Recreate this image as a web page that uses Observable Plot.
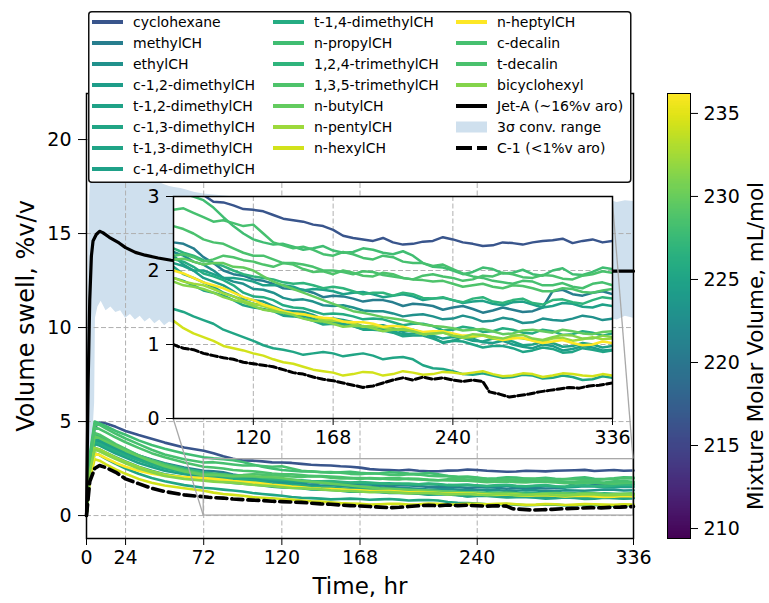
<!DOCTYPE html>
<html>
<head>
<meta charset="utf-8">
<script src="https://cdn.jsdelivr.net/npm/d3@7"></script>
<script src="https://cdn.jsdelivr.net/npm/@observablehq/plot@0.6"></script>
<style>
  body { margin: 0; background: #fff; }
  #fig { position: relative; width: 769px; height: 603px; overflow: hidden; font-family: "DejaVu Sans", sans-serif; }
</style>
</head>
<body>
<div id="fig"></div>
<script>
// ---- data -------------------------------------------------------------
const NAMES = [
  "cyclohexane", "methylCH", "ethylCH", "c-1,2-dimethylCH", "t-1,2-dimethylCH",
  "c-1,3-dimethylCH", "t-1,3-dimethylCH", "c-1,4-dimethylCH", "t-1,4-dimethylCH",
  "n-propylCH", "1,2,4-trimethylCH", "1,3,5-trimethylCH", "n-butylCH", "n-pentylCH",
  "n-hexylCH", "n-heptylCH", "c-decalin", "t-decalin", "bicyclohexyl"
];
// mixture molar volume, mL/mol
const MOLAR_VOL = [216.5, 220.8, 222.9, 224.2, 224.8, 225.2, 225.0, 224.6, 225.9,
  228.0, 226.8, 228.7, 229.8, 232.3, 234.4, 236.2, 228.3, 228.5, 231.2];

// sampling times, hr
const T = [0, 2, 5, 8, 12, 18, 24, 32, 40, 48, 60,
  72, 78, 84, 90, 96, 102, 108, 114, 120, 126, 132, 138, 144, 150, 156, 162, 168, 174, 180, 186, 192, 198,
  204, 210, 216, 222, 228, 234, 240, 246, 252, 258, 264, 270, 276, 282, 288, 294, 300, 306, 312, 318, 324, 330, 336];

// volume swell, %v/v, one row per mixture (same order as NAMES)
const SWELL = [
  [0, 2.6, 4.7, 4.95, 4.9, 4.72, 4.5, 4.28, 4.08, 3.88, 3.62,
   3.45, 3.32, 3.15, 3.02, 2.93, 2.92, 2.88, 2.83, 2.82, 2.8, 2.75, 2.7, 2.68, 2.66, 2.62, 2.6, 2.55, 2.47, 2.44, 2.42, 2.4, 2.44, 2.38, 2.35, 2.36, 2.39, 2.4, 2.45, 2.42, 2.38, 2.36, 2.33, 2.34, 2.38, 2.37, 2.35, 2.38, 2.4, 2.41, 2.43, 2.37, 2.4, 2.42, 2.38, 2.4],
  [0, 2.6, 4.2, 4.12, 3.95, 3.7, 3.48, 3.2, 2.98, 2.78, 2.55,
   2.38, 2.36, 2.3, 2.18, 2.1, 2.0, 1.95, 1.93, 1.88, 1.86, 1.82, 1.76, 1.75, 1.74, 1.7, 1.64, 1.66, 1.65, 1.62, 1.58, 1.6, 1.6, 1.57, 1.52, 1.55, 1.54, 1.52, 1.47, 1.5, 1.52, 1.48, 1.43, 1.46, 1.5, 1.47, 1.44, 1.45, 1.5, 1.72, 1.74, 1.68, 1.66, 1.7, 1.72, 1.68],
  [0, 2.5, 4.0, 3.95, 3.78, 3.55, 3.32, 3.05, 2.82, 2.62, 2.42,
   2.25, 2.2, 2.12, 2.08, 2.0, 1.9, 1.85, 1.82, 1.75, 1.74, 1.7, 1.63, 1.6, 1.61, 1.58, 1.53, 1.52, 1.53, 1.5, 1.46, 1.45, 1.45, 1.42, 1.38, 1.4, 1.41, 1.38, 1.34, 1.35, 1.39, 1.36, 1.31, 1.32, 1.36, 1.34, 1.29, 1.3, 1.35, 1.33, 1.32, 1.35, 1.39, 1.37, 1.33, 1.35],
  [0, 2.4, 4.0, 3.92, 3.72, 3.45, 3.22, 2.95, 2.72, 2.52, 2.35,
   2.2, 2.08, 2.0, 1.9, 1.85, 1.8, 1.72, 1.63, 1.6, 1.58, 1.52, 1.46, 1.45, 1.44, 1.4, 1.34, 1.35, 1.33, 1.3, 1.24, 1.25, 1.26, 1.22, 1.17, 1.2, 1.16, 1.1, 1.02, 1.05, 1.1, 1.08, 1.03, 1.02, 1.05, 1.0, 0.97, 0.95, 1.0, 0.98, 0.92, 0.94, 0.98, 0.96, 0.92, 0.93],
  [0, 2.4, 3.8, 3.72, 3.55, 3.3, 3.08, 2.8, 2.58, 2.38, 2.2,
   2.05, 1.95, 1.9, 1.84, 1.78, 1.7, 1.65, 1.6, 1.55, 1.53, 1.48, 1.42, 1.4, 1.39, 1.35, 1.3, 1.3, 1.28, 1.25, 1.21, 1.22, 1.21, 1.18, 1.14, 1.15, 1.16, 1.12, 1.08, 1.1, 1.09, 1.05, 1.04, 1.08, 1.07, 1.04, 0.99, 1.0, 1.04, 1.02, 0.97, 0.98, 1.02, 1.0, 0.96, 0.98],
  [0, 2.0, 3.3, 3.22, 3.02, 2.75, 2.5, 2.22, 2.0, 1.82, 1.62,
   1.48, 1.44, 1.38, 1.33, 1.28, 1.2, 1.15, 1.1, 1.05, 0.99, 0.95, 0.93, 0.9, 0.86, 0.88, 0.9, 0.88, 0.84, 0.86, 0.88, 0.85, 0.8, 0.82, 0.83, 0.8, 0.72, 0.68, 0.67, 0.64, 0.6, 0.59, 0.61, 0.58, 0.55, 0.56, 0.59, 0.58, 0.54, 0.55, 0.58, 0.56, 0.52, 0.53, 0.57, 0.55],
  [0, 2.3, 3.6, 3.52, 3.35, 3.1, 2.88, 2.6, 2.38, 2.2, 2.02,
   1.9, 1.86, 1.8, 1.73, 1.7, 1.66, 1.6, 1.53, 1.5, 1.48, 1.45, 1.39, 1.38, 1.36, 1.32, 1.27, 1.28, 1.27, 1.25, 1.2, 1.2, 1.19, 1.16, 1.11, 1.12, 1.12, 1.08, 1.03, 1.05, 1.04, 1.0, 0.96, 0.98, 0.98, 0.95, 0.9, 0.92, 0.96, 0.94, 0.89, 0.9, 0.95, 0.93, 0.9, 0.92],
  [0, 2.6, 4.1, 4.02, 3.85, 3.6, 3.35, 3.05, 2.78, 2.55, 2.3,
   2.1, 2.06, 2.0, 2.0, 1.95, 1.9, 1.9, 1.88, 1.85, 1.8, 1.8, 1.8, 1.78, 1.73, 1.75, 1.74, 1.72, 1.68, 1.7, 1.71, 1.68, 1.64, 1.66, 1.68, 1.65, 1.6, 1.62, 1.63, 1.6, 1.56, 1.58, 1.59, 1.55, 1.53, 1.57, 1.58, 1.54, 1.5, 1.52, 1.56, 1.55, 1.51, 1.5, 1.54, 1.52],
  [0, 2.5, 3.9, 3.82, 3.65, 3.42, 3.2, 2.95, 2.72, 2.52, 2.32,
   2.15, 2.12, 2.05, 1.96, 1.92, 1.87, 1.8, 1.7, 1.65, 1.64, 1.6, 1.53, 1.5, 1.49, 1.45, 1.41, 1.42, 1.41, 1.38, 1.34, 1.35, 1.34, 1.3, 1.26, 1.28, 1.28, 1.25, 1.19, 1.2, 1.24, 1.22, 1.17, 1.18, 1.22, 1.2, 1.16, 1.15, 1.2, 1.18, 1.13, 1.14, 1.18, 1.16, 1.12, 1.15],
  [0, 3.2, 5.0, 4.9, 4.75, 4.5, 4.3, 4.0, 3.75, 3.55, 3.3,
   3.1, 3.04, 3.0, 2.95, 2.85, 2.72, 2.6, 2.5, 2.42, 2.38, 2.35, 2.36, 2.32, 2.28, 2.3, 2.33, 2.27, 2.24, 2.25, 2.3, 2.28, 2.24, 2.22, 2.26, 2.2, 2.1, 2.05, 2.04, 2.0, 1.95, 1.98, 2.04, 2.02, 1.96, 1.97, 2.01, 1.95, 1.93, 2.0, 2.03, 1.95, 1.94, 1.98, 2.04, 2.02],
  [0, 2.7, 4.3, 4.2, 4.0, 3.75, 3.5, 3.2, 2.95, 2.75, 2.5,
   2.3, 2.24, 2.2, 2.14, 2.1, 2.06, 2.0, 1.95, 1.92, 1.9, 1.88, 1.84, 1.82, 1.83, 1.8, 1.76, 1.78, 1.76, 1.72, 1.68, 1.7, 1.7, 1.66, 1.7, 1.68, 1.63, 1.62, 1.64, 1.6, 1.57, 1.62, 1.64, 1.58, 1.56, 1.6, 1.62, 1.56, 1.54, 1.6, 1.61, 1.57, 1.55, 1.6, 1.64, 1.62],
  [0, 2.8, 4.4, 4.3, 4.1, 3.8, 3.55, 3.2, 2.95, 2.7, 2.42,
   2.2, 2.22, 2.18, 2.12, 2.15, 2.2, 2.18, 2.14, 2.12, 2.08, 2.05, 2.1, 2.08, 2.02, 1.98, 1.99, 1.95, 2.0, 1.97, 1.93, 1.92, 1.97, 1.95, 1.9, 1.88, 1.87, 1.85, 1.86, 1.82, 1.78, 1.8, 1.82, 1.78, 1.76, 1.8, 1.79, 1.76, 1.72, 1.72, 1.76, 1.75, 1.71, 1.7, 1.73, 1.75],
  [0, 2.7, 4.2, 4.12, 3.95, 3.7, 3.45, 3.15, 2.88, 2.62, 2.35,
   2.15, 2.16, 2.12, 2.08, 2.1, 2.1, 2.05, 2.04, 2.0, 1.92, 1.85, 1.8, 1.75, 1.7, 1.65, 1.6, 1.55, 1.5, 1.45, 1.43, 1.4, 1.37, 1.35, 1.33, 1.3, 1.27, 1.25, 1.24, 1.22, 1.19, 1.2, 1.21, 1.18, 1.14, 1.15, 1.19, 1.2, 1.18, 1.16, 1.2, 1.18, 1.15, 1.14, 1.17, 1.18],
  [0, 2.3, 3.6, 3.52, 3.35, 3.08, 2.85, 2.58, 2.35, 2.18, 2.02,
   1.9, 1.85, 1.82, 1.8, 1.75, 1.69, 1.65, 1.59, 1.55, 1.52, 1.48, 1.44, 1.42, 1.41, 1.38, 1.33, 1.32, 1.31, 1.28, 1.24, 1.25, 1.23, 1.2, 1.2, 1.18, 1.14, 1.15, 1.16, 1.12, 1.09, 1.1, 1.12, 1.08, 1.06, 1.1, 1.08, 1.06, 1.04, 1.08, 1.09, 1.05, 1.07, 1.1, 1.07, 1.08],
  [0, 1.9, 3.0, 2.92, 2.72, 2.45, 2.22, 1.95, 1.75, 1.6, 1.45,
   1.32, 1.22, 1.15, 1.1, 1.05, 0.98, 0.95, 0.92, 0.88, 0.85, 0.8, 0.76, 0.74, 0.7, 0.66, 0.64, 0.62, 0.58, 0.6, 0.63, 0.62, 0.58, 0.6, 0.64, 0.62, 0.59, 0.6, 0.63, 0.62, 0.6, 0.62, 0.64, 0.6, 0.57, 0.58, 0.61, 0.6, 0.56, 0.58, 0.61, 0.6, 0.58, 0.57, 0.6, 0.58],
  [0, 2.1, 3.3, 3.22, 3.05, 2.8, 2.6, 2.38, 2.22, 2.12, 2.05,
   2.0, 1.96, 1.9, 1.84, 1.8, 1.76, 1.7, 1.64, 1.6, 1.54, 1.5, 1.45, 1.42, 1.41, 1.38, 1.36, 1.35, 1.31, 1.3, 1.3, 1.28, 1.24, 1.25, 1.24, 1.2, 1.17, 1.18, 1.18, 1.15, 1.12, 1.12, 1.13, 1.1, 1.06, 1.08, 1.09, 1.05, 1.02, 1.04, 1.06, 1.02, 0.99, 1.0, 1.04, 1.02],
  [0, 3.0, 4.9, 4.82, 4.62, 4.35, 4.1, 3.8, 3.5, 3.25, 3.0,
   2.82, 2.84, 2.78, 2.72, 2.66, 2.68, 2.64, 2.6, 2.62, 2.5, 2.38, 2.34, 2.3, 2.32, 2.28, 2.22, 2.2, 2.25, 2.22, 2.17, 2.15, 2.2, 2.18, 2.12, 2.1, 2.1, 2.06, 2.08, 2.02, 1.96, 1.92, 1.9, 1.86, 1.84, 1.82, 1.86, 1.85, 1.8, 1.8, 1.83, 1.78, 1.76, 1.82, 1.84, 1.8],
  [0, 2.9, 4.7, 4.6, 4.42, 4.15, 3.9, 3.6, 3.32, 3.1, 2.82,
   2.6, 2.56, 2.5, 2.42, 2.38, 2.36, 2.3, 2.24, 2.2, 2.2, 2.15, 2.1, 2.1, 2.08, 2.05, 2.0, 2.0, 1.98, 1.95, 1.99, 1.98, 1.94, 1.92, 1.9, 1.88, 1.93, 1.95, 1.92, 1.9, 1.86, 1.88, 1.93, 1.92, 1.97, 1.95, 1.91, 1.9, 1.94, 1.93, 1.89, 1.88, 1.93, 1.95, 1.99, 1.97],
  [0, 2.3, 3.5, 3.42, 3.25, 3.0, 2.78, 2.5, 2.3, 2.1, 1.95,
   1.85, 1.8, 1.78, 1.75, 1.7, 1.64, 1.6, 1.57, 1.52, 1.47, 1.45, 1.43, 1.4, 1.35, 1.32, 1.31, 1.28, 1.24, 1.25, 1.25, 1.22, 1.18, 1.2, 1.21, 1.18, 1.14, 1.15, 1.16, 1.12, 1.1, 1.14, 1.13, 1.1, 1.08, 1.12, 1.13, 1.08, 1.06, 1.1, 1.13, 1.12, 1.08, 1.08, 1.12, 1.1]
];

// Jet-A reference fuel (~16 %v aromatics)
const JETA_T = [0, 1, 2, 3, 4, 6, 8, 10, 14, 20, 24, 30, 36, 44, 52, 60, 72, 96, 120, 168, 240, 300, 336];
const JETA_V = [0, 7, 11.5, 13.8, 14.6, 14.95, 15.12, 15.05, 14.8, 14.5, 14.25, 14.0, 13.85, 13.7, 13.58, 13.5, 13.4, 13.3, 13.2, 13.1, 13.05, 13.0, 13.0];

// 3-sigma conventional fuel range
const BAND_T  = [0, 1, 2, 3, 4, 5, 5.5, 7, 9, 12, 15, 18, 21, 24, 27, 30, 33, 36, 39, 42, 45, 48, 51, 54, 58, 62, 66, 72, 96, 144, 192, 240, 288, 312, 320, 326, 331, 336];
const BAND_LO = [0, 0.5, 1.5, 3, 4.5, 6, 10.5, 11.1, 11.4, 10.9, 11.1, 10.8, 10.9, 10.5, 10.7, 10.4, 10.6, 10.3, 10.5, 10.2, 10.4, 10.1, 10.3, 10.2, 10.0, 10.1, 10.0, 10.0, 10.2, 10.3, 10.4, 10.5, 10.4, 10.6, 10.5, 10.4, 10.6, 10.5];
const BAND_HI = [0, 12, 17, 18.5, 19, 19.2, 19.2, 19.1, 19.0, 18.8, 18.7, 18.6, 18.5, 18.4, 18.3, 18.2, 18.1, 18.0, 17.9, 17.8, 17.7, 17.6, 17.5, 17.45, 17.4, 17.3, 17.2, 17.1, 16.9, 16.8, 16.7, 16.7, 16.75, 16.6, 16.8, 16.65, 16.75, 16.7];

// C-1 reference fuel (<1 %v aromatics)
const C1_T = [0, 2, 5, 8, 12, 18, 24, 32, 40, 48, 60, 72, 75, 78, 84, 90, 96, 102, 108, 114, 120, 126, 132, 138, 144, 150, 156, 162, 168, 174, 180, 186, 192, 198, 204, 210, 216, 222, 228, 234, 240, 246, 252, 258, 262, 268, 274, 280, 286, 292, 298, 304, 310, 316, 322, 328, 336];
const C1_V = [0, 1.8, 2.5, 2.66, 2.55, 2.3, 1.95, 1.7, 1.45, 1.28, 1.1, 1.0, 0.97, 0.95, 0.93, 0.88, 0.85, 0.82, 0.8, 0.76, 0.74, 0.72, 0.7, 0.66, 0.62, 0.6, 0.56, 0.53, 0.51, 0.48, 0.45, 0.42, 0.44, 0.48, 0.52, 0.55, 0.52, 0.56, 0.53, 0.55, 0.52, 0.5, 0.52, 0.5, 0.36, 0.33, 0.29, 0.31, 0.33, 0.36, 0.38, 0.4, 0.42, 0.41, 0.44, 0.45, 0.48];

const X_TICKS = [0, 24, 72, 120, 168, 240, 336];
const Y_TICKS = [0, 5, 10, 15, 20];
const INSET_X_TICKS = [120, 168, 240, 336];
const INSET_Y_TICKS = [0, 1, 2, 3];
const CBAR_TICKS = [210, 215, 220, 225, 230, 235];
const CBAR_DOMAIN = [209.4, 236.2];
const ZOOM = {x1: 72, x2: 336, y1: 0, y2: 3};

// ---- tidy tables -------------------------------------------------------
const rows = NAMES.flatMap((name, i) => T.map((t, j) => ({name, mv: MOLAR_VOL[i], t, v: SWELL[i][j]})));
const jetA = JETA_T.map((t, i) => ({t, v: JETA_V[i]}));
const band = BAND_T.map((t, i) => ({t, lo: BAND_LO[i], hi: BAND_HI[i]}));
const c1 = C1_T.map((t, i) => ({t, v: C1_V[i]}));

// ---- layout --------------------------------------------------------------
const W = 769, H = 603;
const AX = {left: 86, right: 633, top: 93, bottom: 538};
const INS = {left: 173, top: 196, width: 439, height: 222};
const FONT = "DejaVu Sans";
const TICK_FS = 19;
const GRID = {stroke: "#b0b0b0", strokeOpacity: 1, strokeWidth: 1, strokeDasharray: "5,2.5"};
const COLOR = {type: "linear", scheme: "viridis", domain: CBAR_DOMAIN};
const BAND_FILL = "#cfe0ee";

const fig = document.getElementById("fig");
function place(el, left, top) {
  el.style.position = "absolute";
  el.style.left = left + "px";
  el.style.top = top + "px";
  fig.appendChild(el);
}
const baseStyle = {fontFamily: FONT, fontSize: TICK_FS + "px", color: "black", background: "transparent", overflow: "visible"};

// ---- main axes -----------------------------------------------------------
const main = Plot.plot({
  width: W, height: H,
  marginLeft: AX.left, marginRight: W - AX.right, marginTop: AX.top, marginBottom: H - AX.bottom,
  x: {domain: [0, 336]},
  y: {domain: [-1.22, 22.45]},
  color: COLOR,
  style: baseStyle,
  marks: [
    Plot.areaY(band, {x: "t", y1: "lo", y2: "hi", fill: BAND_FILL}),
    Plot.gridX({ticks: X_TICKS, ...GRID}),
    Plot.gridY({ticks: Y_TICKS, ...GRID}),
    Plot.line(rows, {x: "t", y: "v", z: "name", stroke: "mv", strokeWidth: 2.6}),
    Plot.line(jetA, {x: "t", y: "v", stroke: "black", strokeWidth: 3.2}),
    Plot.line(c1, {x: "t", y: "v", stroke: "black", strokeWidth: 3.6, strokeDasharray: "11,5"}),
    Plot.rect([ZOOM], {x1: "x1", x2: "x2", y1: "y1", y2: "y2", fill: "none", stroke: "#a8a8a8", strokeWidth: 1.3}),
    Plot.frame({stroke: "black", strokeWidth: 1.5}),
    Plot.axisX({ticks: X_TICKS, tickSize: 7, tickPadding: 5, label: null, fontSize: TICK_FS}),
    Plot.axisY({ticks: Y_TICKS, tickSize: 8, tickPadding: 7, label: null, fontSize: TICK_FS}),
    Plot.text(["Time, hr"], {text: d => d, frameAnchor: "bottom", textAnchor: "middle", lineAnchor: "middle", dy: 48, fontSize: 23}),
    Plot.text(["Volume swell, %v/v"], {text: d => d, frameAnchor: "left", textAnchor: "middle", lineAnchor: "middle", rotate: -90, dx: -60, fontSize: 24})
  ]
});
place(main, 0, 0);

// connector lines from the zoomed region to the inset frame
{
  const sx = main.scale("x"), sy = main.scale("y");
  const X = d3.scaleLinear(sx.domain, sx.range);
  const Y = d3.scaleLinear(sy.domain, sy.range);
  const g = d3.select(main).append("g")
    .attr("stroke", "#a8a8a8").attr("stroke-width", 1.3).attr("fill", "none");
  g.append("line")
    .attr("x1", INS.left).attr("y1", INS.top + INS.height)
    .attr("x2", X(ZOOM.x1)).attr("y2", Y(ZOOM.y1));
  g.append("line")
    .attr("x1", INS.left + INS.width).attr("y1", INS.top)
    .attr("x2", X(ZOOM.x2)).attr("y2", Y(ZOOM.y2));
}

// ---- inset (zoom on 72-336 hr, 0-3 %v/v) ---------------------------------
const im = {l: 45, r: 30, t: 12, b: 40};
const inset = Plot.plot({
  width: INS.width + im.l + im.r, height: INS.height + im.t + im.b,
  marginLeft: im.l, marginRight: im.r, marginTop: im.t, marginBottom: im.b,
  x: {domain: [ZOOM.x1, ZOOM.x2]},
  y: {domain: [ZOOM.y1, ZOOM.y2]},
  color: COLOR,
  style: baseStyle,
  marks: [
    Plot.frame({fill: "white"}),
    Plot.gridX({ticks: [120, 168, 240], ...GRID}),
    Plot.gridY({ticks: [1, 2], ...GRID}),
    Plot.line(rows.filter(d => d.t >= 60), {x: "t", y: "v", z: "name", stroke: "mv", strokeWidth: 2.5, clip: true}),
    Plot.line(c1.filter(d => d.t >= 60), {x: "t", y: "v", stroke: "black", strokeWidth: 3, strokeDasharray: "7,3", clip: true}),
    Plot.frame({stroke: "black", strokeWidth: 1.5}),
    Plot.axisX({ticks: INSET_X_TICKS, tickSize: 7, tickPadding: 5, tickFormat: "d", label: null, fontSize: TICK_FS}),
    Plot.axisY({ticks: INSET_Y_TICKS, tickSize: 7, tickPadding: 7, tickFormat: "d", label: null, fontSize: TICK_FS})
  ]
});
place(inset, INS.left - im.l, INS.top - im.t);

// ---- colorbar --------------------------------------------------------------
const CB = {left: 667, right: 690};
const stops = d3.range(0, Math.round((CBAR_DOMAIN[1] - CBAR_DOMAIN[0]) * 10)).map(i => CBAR_DOMAIN[0] + i / 10);
const cbar = Plot.plot({
  width: W - CB.left, height: H,
  marginLeft: 0, marginRight: W - CB.right, marginTop: AX.top, marginBottom: H - AX.bottom,
  x: {domain: [0, 1], axis: null},
  y: {domain: CBAR_DOMAIN},
  color: COLOR,
  style: baseStyle,
  marks: [
    Plot.rect(stops, {x1: 0, x2: 1, y1: d => d, y2: d => d + 0.12, fill: d => d + 0.05, shapeRendering: "crispEdges"}),
    Plot.frame({stroke: "black", strokeWidth: 1}),
    Plot.axisY({anchor: "right", ticks: CBAR_TICKS, tickSize: 7, tickPadding: 6, label: null, fontSize: TICK_FS}),
    Plot.text(["Mixture Molar Volume, mL/mol"], {text: d => d, frameAnchor: "right", textAnchor: "middle", lineAnchor: "middle", rotate: -90, dx: 66, dy: 30, fontSize: 21.5})
  ]
});
place(cbar, CB.left, 0);

// ---- legend ------------------------------------------------------------------
{
  const colorOf = v => d3.interpolateViridis((v - CBAR_DOMAIN[0]) / (CBAR_DOMAIN[1] - CBAR_DOMAIN[0]));
  const entries = NAMES.map((name, i) => ({name, kind: "line", color: colorOf(MOLAR_VOL[i])}));
  entries.push({name: "Jet-A (~16%v aro)", kind: "line", color: "black"});
  entries.push({name: "3\u03c3 conv. range", kind: "patch", color: BAND_FILL});
  entries.push({name: "C-1 (<1%v aro)", kind: "dash", color: "black"});
  const cols = [entries.slice(0, 8), entries.slice(8, 15), entries.slice(15)];
  const colX = [92, 273, 456];
  const svg = d3.create("svg").attr("width", W).attr("height", H)
    .style("position", "absolute").style("left", "0px").style("top", "0px")
    .style("font-family", FONT).style("font-size", "14px");
  svg.append("rect").attr("x", 88.75).attr("y", 11.75).attr("width", 542).attr("height", 170.5)
    .attr("rx", 3).attr("fill", "white").attr("stroke", "#111").attr("stroke-width", 1.5);
  cols.forEach((col, c) => col.forEach((e, r) => {
    const x = colX[c], y = 22 + 21 * r;
    if (e.kind === "patch") {
      svg.append("rect").attr("x", x).attr("y", y - 5.5).attr("width", 31).attr("height", 11).attr("fill", e.color);
    } else {
      svg.append("line").attr("x1", x).attr("x2", x + 31).attr("y1", y).attr("y2", y)
        .attr("stroke", e.color).attr("stroke-width", 4)
        .attr("stroke-dasharray", e.kind === "dash" ? "16,5" : null);
    }
    svg.append("text").attr("x", x + 41).attr("y", y).attr("dy", "0.36em").attr("fill", "black").text(e.name);
  }));
  fig.appendChild(svg.node());
}
</script>
</body>
</html>
